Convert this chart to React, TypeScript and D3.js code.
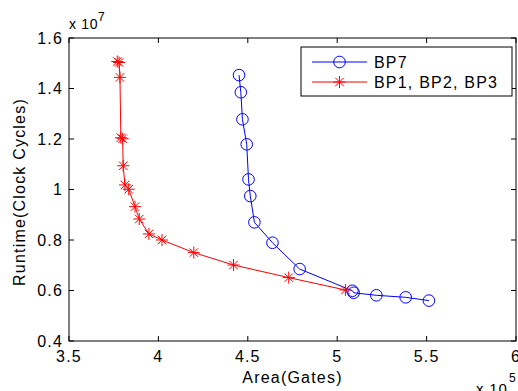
import React from "react";
import * as d3 from "d3";

const xTicks = [3.5, 4, 4.5, 5, 5.5, 6];
const yTicks = [0.4, 0.6, 0.8, 1, 1.2, 1.4, 1.6];

// Area in units of 1e5 gates, runtime in units of 1e7 cycles
const bp7Area = [4.451, 4.461, 4.47, 4.494, 4.504, 4.514, 4.537, 4.638, 4.79, 5.085, 5.092, 5.219, 5.383, 5.513];
const bp7Runtime = [1.453, 1.385, 1.278, 1.179, 1.04, 0.974, 0.87, 0.789, 0.685, 0.599, 0.591, 0.581, 0.573, 0.56];

const bp123Area = [3.77, 3.78, 3.785, 3.79, 3.8, 3.803, 3.813, 3.834, 3.869, 3.893, 3.947, 4.02, 4.198, 4.42, 4.729, 5.046];
const bp123Runtime = [1.507, 1.503, 1.444, 1.205, 1.201, 1.094, 1.018, 1.001, 0.932, 0.883, 0.824, 0.8, 0.75, 0.701, 0.651, 0.602];

const seriesNames = ["BP7", "BP1, BP2, BP3"];

const FONT = "'Liberation Sans', Arial, sans-serif";

const L = 69, R = 516, T = 38, B = 341;

function Star({ x, y, r, color }: { x: number; y: number; r: number; color: string }) {
  const d = r * 0.707;
  return (
    <g stroke={color} strokeWidth={1}>
      <line x1={x - r} y1={y} x2={x + r} y2={y} />
      <line x1={x} y1={y - r} x2={x} y2={y + r} />
      <line x1={x - d} y1={y - d} x2={x + d} y2={y + d} />
      <line x1={x - d} y1={y + d} x2={x + d} y2={y - d} />
    </g>
  );
}

export default function App() {
  const x = d3.scaleLinear().domain([3.5, 6]).range([L, R]);
  const y = d3.scaleLinear().domain([0.4, 1.6]).range([B, T]);
  const line = d3.line<[number, number]>().x((d) => x(d[0])).y((d) => y(d[1]));
  const bp7: [number, number][] = bp7Area.map((a, i) => [a, bp7Runtime[i]]);
  const bp123: [number, number][] = bp123Area.map((a, i) => [a, bp123Runtime[i]]);
  const tickLen = 5;
  const ls = 1.2;
  return (
    <svg width={518} height={391} style={{ position: "absolute", left: 0, top: 0, background: "#fff" }} fontFamily={FONT}>
      <rect x={0} y={0} width={518} height={391} fill="#fff" />
      {/* data */}
      <path d={line(bp7) || ""} fill="none" stroke="#0000ff" strokeWidth={1} />
      {bp7.map((d, i) => (
        <circle key={"c" + i} cx={x(d[0])} cy={y(d[1])} r={5.8} fill="none" stroke="#0000ff" strokeWidth={1} />
      ))}
      <path d={line(bp123) || ""} fill="none" stroke="#ff0000" strokeWidth={1} />
      {bp123.map((d, i) => (
        <Star key={"s" + i} x={x(d[0])} y={y(d[1])} r={6} color="#ff0000" />
      ))}
      {/* axes box */}
      <rect x={L} y={T} width={R - L} height={B - T} fill="none" stroke="#000" strokeWidth={1} />
      {xTicks.map((t) => (
        <g key={"xt" + t}>
          <line x1={x(t)} x2={x(t)} y1={B} y2={B - tickLen} stroke="#000" />
          <line x1={x(t)} x2={x(t)} y1={T} y2={T + tickLen} stroke="#000" />
          <text x={x(t)} y={362} textAnchor="middle" fontSize={16} letterSpacing={ls}>{String(t)}</text>
        </g>
      ))}
      {yTicks.map((t) => (
        <g key={"yt" + t}>
          <line x1={L} x2={L + tickLen} y1={y(t)} y2={y(t)} stroke="#000" />
          <line x1={R} x2={R - tickLen} y1={y(t)} y2={y(t)} stroke="#000" />
          <text x={63} y={y(t) + 5.7} textAnchor="end" fontSize={16} letterSpacing={ls}>{String(t)}</text>
        </g>
      ))}
      {/* exponents */}
      <text x={69} y={29.3} fontSize={14} letterSpacing={0.7}>x 10</text>
      <text x={98} y={20.5} fontSize={12}>7</text>
      <text x={476} y={394} fontSize={15} letterSpacing={0.8}>x 10</text>
      <text x={509} y={382} fontSize={12}>5</text>
      {/* axis labels */}
      <text x={(L + R) / 2} y={383} textAnchor="middle" fontSize={16} letterSpacing={ls}>Area(Gates)</text>
      <text transform={`translate(25,192) rotate(-90)`} textAnchor="middle" fontSize={16} letterSpacing={ls}>Runtime(Clock Cycles)</text>
      {/* legend */}
      <rect x={301} y={47} width={211} height={49} fill="#fff" stroke="#000" strokeWidth={1} />
      <line x1={312} x2={367} y1={62} y2={62} stroke="#0000ff" />
      <circle cx={339.5} cy={62} r={5.8} fill="none" stroke="#0000ff" />
      <text x={374} y={67.5} fontSize={16} letterSpacing={ls}>{seriesNames[0]}</text>
      <line x1={312} x2={367} y1={82} y2={82} stroke="#ff0000" />
      <Star x={339.5} y={82} r={6} color="#ff0000" />
      <text x={374} y={87.5} fontSize={16} letterSpacing={ls}>{seriesNames[1]}</text>
    </svg>
  );
}
